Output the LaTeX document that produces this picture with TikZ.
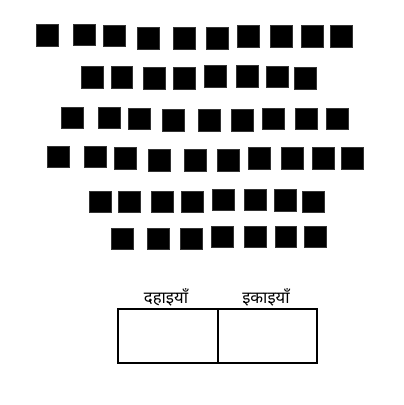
\documentclass[tikz,border=0pt]{standalone}
\usepackage{fontspec}
\newfontfamily\hindifont[Script=Devanagari]{Noto Sans}

\tikzset{
  blok/.style={fill=black, draw=black!80, line width=0.3pt, minimum size=16.2pt, inner sep=0pt},
  khana/.style={draw, line width=1.5pt, minimum width=74.6pt, minimum height=40.5pt, inner sep=0pt},
  shirshak/.style={font=\hindifont\fontsize{12.5pt}{14pt}\selectfont, inner sep=0pt, anchor=base}
}

\begin{document}
\begin{tikzpicture}[x=0.75pt, y=-0.75pt]
	\useasboundingbox (0,0) rectangle (404,405);
	% row 1
	\foreach \x/\y [count=\i] in {47/35, 84.2/34.8, 114.2/35.8, 148.3/38, 184.3/38, 217/38, 248.3/36, 281/36, 312.3/36, 341/36}
		\node[blok] (a\i) at (\x, \y) {};
	% row 2
	\foreach \x/\y [count=\i] in {92.3/77.3, 121.7/77.3, 154.2/78, 184.2/78, 215/76, 247/76, 277/76.7, 305/78}
		\node[blok] (b\i) at (\x, \y) {};
	% row 3
	\foreach \x/\y [count=\i] in {72.5/117.5, 109.2/117.5, 139.5/118.5, 173.5/120.2, 209.5/120.2, 242.5/120.2, 273.5/118.5, 306.5/118.5, 337.5/118.5}
		\node[blok] (c\i) at (\x, \y) {};
	% row 4
	\foreach \x/\y [count=\i] in {58.3/156.8, 95/156.8, 125.2/158.2, 159.2/160, 195.2/160, 228.2/160, 259.2/158.2, 292.3/158.2, 323.2/158.2, 352.5/158.2}
		\node[blok] (d\i) at (\x, \y) {};
	% row 5
	\foreach \x/\y [count=\i] in {100.5/201.5, 129.2/201.5, 162.5/201.5, 192.5/201.5, 223.5/199.5, 255.2/199.5, 285.2/200.2, 313.5/201.5}
		\node[blok] (e\i) at (\x, \y) {};
	% row 6
	\foreach \x/\y [count=\i] in {122.5/238.5, 158.5/238.5, 191.5/238.5, 222.5/236.5, 255.2/236.5, 285.8/236.5, 315.2/236.5}
		\node[blok] (f\i) at (\x, \y) {};
	% place value table
	\node[khana] (dahai) at (168, 336.3) {};
	\node[khana] (ikai) at (267.5, 336.3) {};
	\node[shirshak] (dahaiL) at (166, 303) {दहाइयाँ};
	\node[shirshak] (ikaiL) at (266, 303) {इकाइयाँ};
\end{tikzpicture}
\end{document}
